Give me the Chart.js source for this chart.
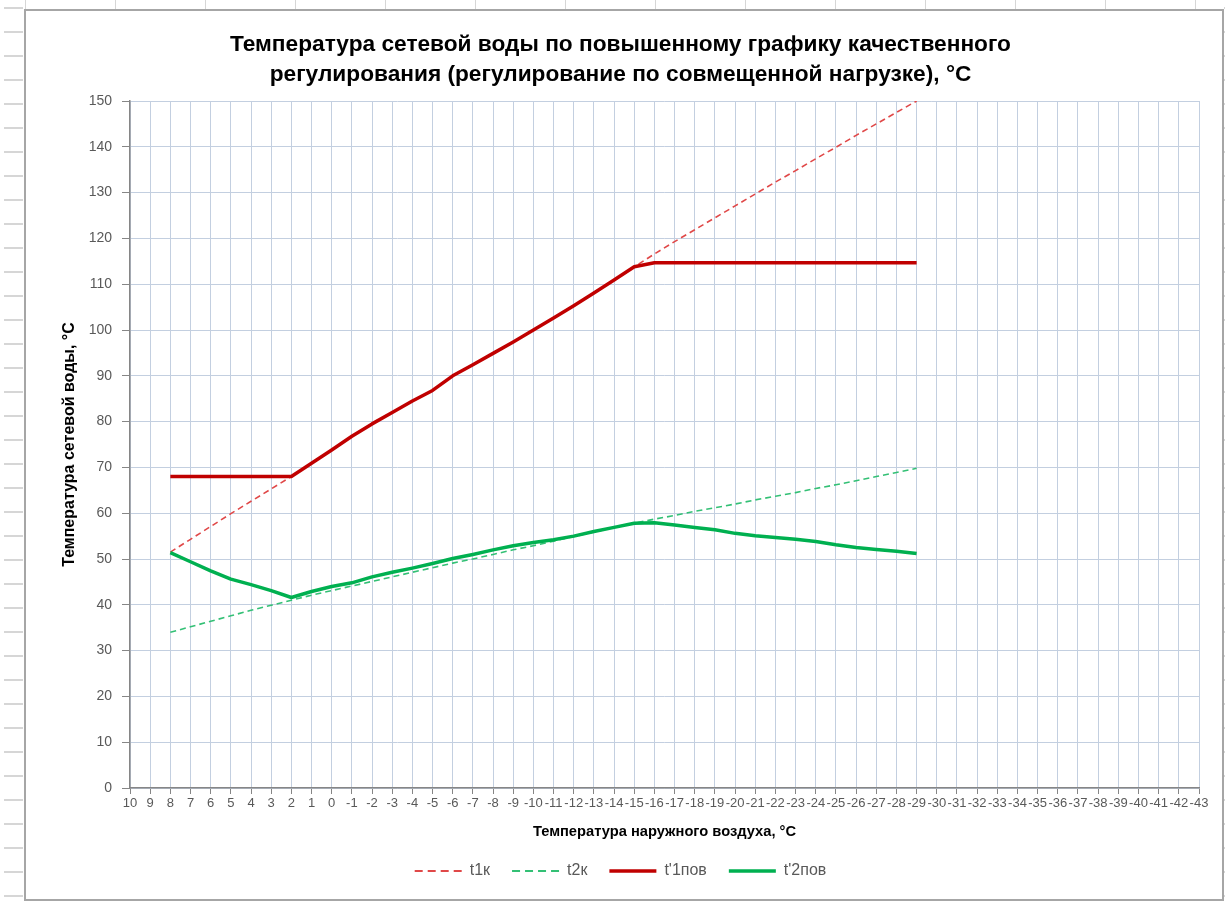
<!DOCTYPE html>
<html>
<head>
<meta charset="utf-8">
<script src="https://cdn.jsdelivr.net/npm/chart.js@4.4.1/dist/chart.umd.min.js"></script>
<style>
  html, body { margin: 0; padding: 0; background: #fff; }
  body { width: 1225px; height: 901px; position: relative; overflow: hidden; }
  .rows-left {
    position: absolute; left: 4px; top: 0; width: 19px; height: 901px;
    background: repeating-linear-gradient(180deg, transparent 0, transparent 7px, #d6d6d6 7px, #d6d6d6 9px, transparent 9px, transparent 24px);
  }
  .rows-right {
    position: absolute; left: 1224px; top: 0; width: 1px; height: 901px;
    background: repeating-linear-gradient(180deg, transparent 0, transparent 7px, #d6d6d6 7px, #d6d6d6 9px, transparent 9px, transparent 24px);
  }
  .cols-top {
    position: absolute; left: 0; top: 0; width: 1225px; height: 9px;
    background: repeating-linear-gradient(90deg, transparent 0, transparent 25px, #d6d6d6 25px, #d6d6d6 26px, transparent 26px, transparent 90px);
  }
  .frame {
    position: absolute; left: 24px; top: 9px; width: 1196px; height: 888px;
    border: 2px solid #a6a6a6; background: #fff;
  }
  canvas { display: block; }
</style>
</head>
<body>
<div class="rows-left"></div>
<div class="rows-right"></div>
<div class="cols-top"></div>
<div class="frame"><canvas id="chart" width="1196" height="888"></canvas></div>
<script>
// наружная температура, °С
const tOut = ['10','9','8','7','6','5','4','3','2','1','0','-1','-2','-3','-4','-5','-6','-7','-8','-9','-10',
  '-11','-12','-13','-14','-15','-16','-17','-18','-19','-20','-21','-22','-23','-24','-25','-26','-27','-28','-29',
  '-30','-31','-32','-33','-34','-35','-36','-37','-38','-39','-40','-41','-42','-43'];

// values from 8 down to -29
const t1k = [51.5, 54.3, 57.1, 59.9, 62.6, 65.3, 68, 70.9, 73.8, 76.8, 79.5, 82, 84.5, 86.8, 90, 92.4, 94.9, 97.4,
  100, 102.6, 105.3, 108.1, 110.9, 113.8, 116.6, 119.3, 121.9, 124.5, 127.1, 129.7, 132.3, 134.8, 137.4, 139.9,
  142.5, 145, 147.5, 150];
const t2k = [34, 35.2, 36.4, 37.6, 38.8, 39.9, 41, 42.1, 43.1, 44.1, 45.1, 46.1, 47.1, 48.1, 49.1, 50, 51, 52,
  52.9, 53.9, 54.9, 55.9, 56.9, 57.8, 58.7, 59.5, 60.4, 61.2, 62, 62.9, 63.7, 64.5, 65.4, 66.2, 67.1, 68, 68.9, 69.8];
const t1pov = [68, 68, 68, 68, 68, 68, 68, 70.9, 73.8, 76.8, 79.5, 82, 84.5, 86.8, 90, 92.4, 94.9, 97.4,
  100, 102.6, 105.3, 108.1, 110.9, 113.8, 114.7, 114.7, 114.7, 114.7, 114.7, 114.7, 114.7, 114.7, 114.7, 114.7,
  114.7, 114.7, 114.7, 114.7];
const t2pov = [51.4, 49.4, 47.4, 45.6, 44.4, 43.1, 41.6, 42.9, 44, 44.8, 46.1, 47.1, 48, 49, 50.1, 51, 52, 52.9,
  53.6, 54.2, 55, 56, 56.9, 57.8, 57.9, 57.4, 56.9, 56.4, 55.6, 55.1, 54.7, 54.3, 53.8, 53.1, 52.5, 52.1, 51.7, 51.2];

const startAt = tOut.indexOf('8');
const pad = vals => tOut.map((l, i) => (i >= startAt && i < startAt + vals.length) ? vals[i - startAt] : null);

const tickGray = '#595959';
const axisGray = '#868686';
const gridBlue = '#c3cfe0';

Chart.defaults.font.family = '"Liberation Sans", Arial, sans-serif';

new Chart(document.getElementById('chart'), {
  type: 'line',
  data: {
    labels: tOut,
    datasets: [
      { label: 't1к', data: pad(t1k), borderColor: '#e04848', borderWidth: 1.6, borderDash: [6, 4], order: 2 },
      { label: 't2к', data: pad(t2k), borderColor: '#33c075', borderWidth: 1.6, borderDash: [6, 4], order: 2 },
      { label: "t'1пов", data: pad(t1pov), borderColor: '#c00000', borderWidth: 3.5, order: 1 },
      { label: "t'2пов", data: pad(t2pov), borderColor: '#00b050', borderWidth: 3.5, order: 1 }
    ]
  },
  options: {
    responsive: false,
    devicePixelRatio: 1,
    animation: false,
    spanGaps: false,
    elements: { point: { radius: 0 }, line: { tension: 0, borderJoinStyle: 'round' } },
    layout: { padding: { left: 16, right: 23, top: 0, bottom: 10 } },
    plugins: {
      tooltip: { enabled: false },
      title: {
        display: true,
        text: ['Температура сетевой воды по повышенному графику качественного',
               'регулирования (регулирование по совмещенной нагрузке), °С'],
        color: '#000',
        font: { size: 22.7, weight: 'bold', lineHeight: 1.3216 },
        padding: { top: 19, bottom: 11 }
      },
      legend: {
        position: 'bottom',
        labels: {
          usePointStyle: true,
          pointStyle: 'line',
          pointStyleWidth: 47,
          color: tickGray,
          font: { size: 16 },
          padding: 22,
          sort: (a, b) => a.datasetIndex - b.datasetIndex,
          generateLabels: chart => Chart.defaults.plugins.legend.labels.generateLabels(chart).map(item => {
            const ds = chart.data.datasets[item.datasetIndex];
            return Object.assign(item, {
              lineDash: ds.borderDash ? [8, 5] : [],
              lineWidth: ds.borderDash ? 2 : ds.borderWidth,
              strokeStyle: ds.borderColor
            });
          })
        }
      }
    },
    scales: {
      x: {
        offset: false,
        afterFit: s => { s.height = 53; },
        grid: { color: gridBlue, offset: false, tickColor: axisGray, tickLength: 6 },
        border: { color: axisGray, width: 1.5 },
        ticks: { color: tickGray, font: { size: 13 }, autoSkip: false, maxRotation: 0, minRotation: 0, padding: 2 },
        title: {
          display: true, text: 'Температура наружного воздуха, °С', color: '#000',
          font: { size: 14.7, weight: 'bold' }, padding: { top: 0, bottom: 0 }
        }
      },
      y: {
        min: 0, max: 150,
        afterFit: s => { s.width = 88; },
        grid: { color: gridBlue, tickColor: axisGray, tickLength: 8 },
        border: { color: axisGray, width: 1.5 },
        ticks: { stepSize: 10, color: tickGray, font: { size: 14 }, padding: 10 },
        title: {
          display: true, text: 'Температура сетевой воды, °С', color: '#000',
          font: { size: 16, weight: 'bold' }, padding: { top: 18, bottom: 0 }
        }
      }
    }
  }
});
</script>
</body>
</html>
